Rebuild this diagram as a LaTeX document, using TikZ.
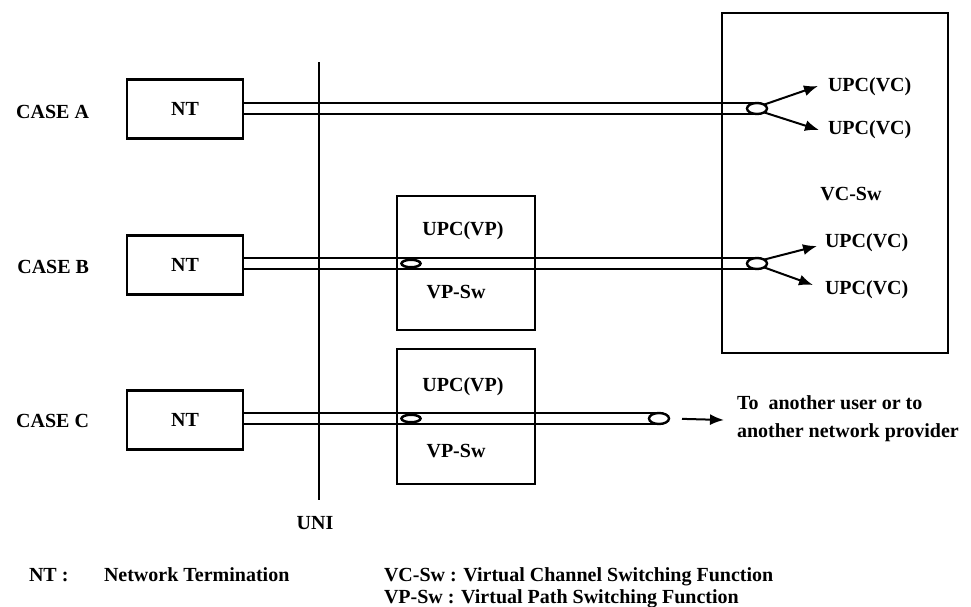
\documentclass[tikz,border=0pt]{standalone}
\usepackage{fontspec}
\setmainfont{Liberation Serif}
\usetikzlibrary{arrows.meta,shapes.geometric}
\begin{document}
\begin{tikzpicture}[x=1pt,y=-1pt,
  every node/.style={outer sep=0pt},
  frame/.style={draw, line width=2.5pt, inner sep=0pt},
  ntbox/.style={frame, minimum width=116pt, minimum height=59pt},
  vpbox/.style={frame, minimum width=138pt, minimum height=134pt},
  pipe/.style={line width=2.5pt},
  capend/.style={draw, ellipse, fill=white, line width=2.4pt, inner sep=0pt,
                 minimum width=20pt, minimum height=11pt},
  midcap/.style={draw, ellipse, fill=white, line width=2.5pt, inner sep=0pt,
                 minimum width=19pt, minimum height=7.5pt},
  arr/.style={line width=2pt, -{Latex[length=14pt,width=11pt]}},
  txt/.style={inner sep=0pt, font=\fontsize{20}{24}\selectfont\bfseries}]
\useasboundingbox (0,0) rectangle (971,606);

% network terminations
\node[ntbox] (ntA) at (185,109) {};
\node[ntbox] (ntB) at (185,265) {};
\node[ntbox] (ntC) at (185,420) {};
\node[txt, anchor=base] (ntAl) at (185,115.6) {NT};
\node[txt, anchor=base] (ntBl) at (185,271.6) {NT};
\node[txt, anchor=base] (ntCl) at (185,426.6) {NT};

% case labels
\node[txt, anchor=base east] (caseA) at (89,118.6) {CASE A};
\node[txt, anchor=base east] (caseB) at (89,273.6) {CASE B};
\node[txt, anchor=base east] (caseC) at (89,427.6) {CASE C};

% VP switches and VC switch
\node[vpbox] (vpB) at (466,263) {};
\node[vpbox, minimum height=135pt] (vpC) at (466,416.5) {};
\node[frame, minimum width=226pt, minimum height=340pt] (vc) at (835,183) {};

\node[txt, anchor=base] (upcvpB) at (463,235.6) {UPC(VP)};
\node[txt, anchor=base] (vpswB) at (456,298.6) {VP-Sw};
\node[txt, anchor=base] (upcvpC) at (463,391.6) {UPC(VP)};
\node[txt, anchor=base] (vpswC) at (456,457.6) {VP-Sw};
\node[txt, anchor=base] (vcsw) at (851,200.6) {VC-Sw};

% user-network interface
\coordinate (uniTop) at (319,62);
\coordinate (uniBot) at (319,500);
\draw[line width=2.5pt] (uniTop) -- (uniBot);
\node[txt, anchor=base] (uni) at (315,529.6) {UNI};

% pipe end caps
\node[capend] (eA) at (757,108.5) {};
\node[capend] (eB) at (757,263.5) {};
\node[capend] (eC) at (659,418.5) {};

% pipes
\draw[pipe] (ntA.east |- eA.north) -- (eA.north);
\draw[pipe] (ntA.east |- eA.south) -- (eA.south);
\draw[pipe] (ntB.east |- eB.north) -- (eB.north);
\draw[pipe] (ntB.east |- eB.south) -- (eB.south);
\draw[pipe] (ntC.east |- eC.north) -- (eC.north);
\draw[pipe] (ntC.east |- eC.south) -- (eC.south);

% VP connection points inside the VP switches
\node[midcap] (mB) at (411,263.5) {};
\node[midcap] (mC) at (411,418.5) {};

% VC branches
\node[txt, anchor=base west] (upcA1) at (828,91.6) {UPC(VC)};
\node[txt, anchor=base west] (upcA2) at (828,134.6) {UPC(VC)};
\node[txt, anchor=base west] (upcB1) at (825,247.6) {UPC(VC)};
\node[txt, anchor=base west] (upcB2) at (825,294.6) {UPC(VC)};
\coordinate (tA1) at (818,86);
\coordinate (tA2) at (819,130);
\coordinate (tB1) at (817,246);
\coordinate (tB2) at (813,285);
\draw[arr] (eA.north east) -- (tA1);
\draw[arr] (eA.south east) -- (tA2);
\draw[arr] (eB.north east) -- (tB1);
\draw[arr] (eB.south east) -- (tB2);

% onward connection of case C
\coordinate (tC) at (724,420);
\draw[arr, shorten <=13pt] (eC.east) -- (tC);
\node[txt, anchor=base west] (toL1) at (737,409) {To~~another user or to};
\node[txt, anchor=base west] (toL2) at (737,437) {another network provider};

% legend
\node[txt, anchor=base west] (lgNT) at (29,581) {NT :};
\node[txt, anchor=base west] (lgNTd) at (104,581) {Network Termination};
\node[txt, anchor=base west] (lgVC) at (384,581) {VC-Sw : Virtual Channel Switching Function};
\node[txt, anchor=base west] (lgVP) at (384,603.5) {VP-Sw : Virtual Path Switching Function};
\end{tikzpicture}
\end{document}
